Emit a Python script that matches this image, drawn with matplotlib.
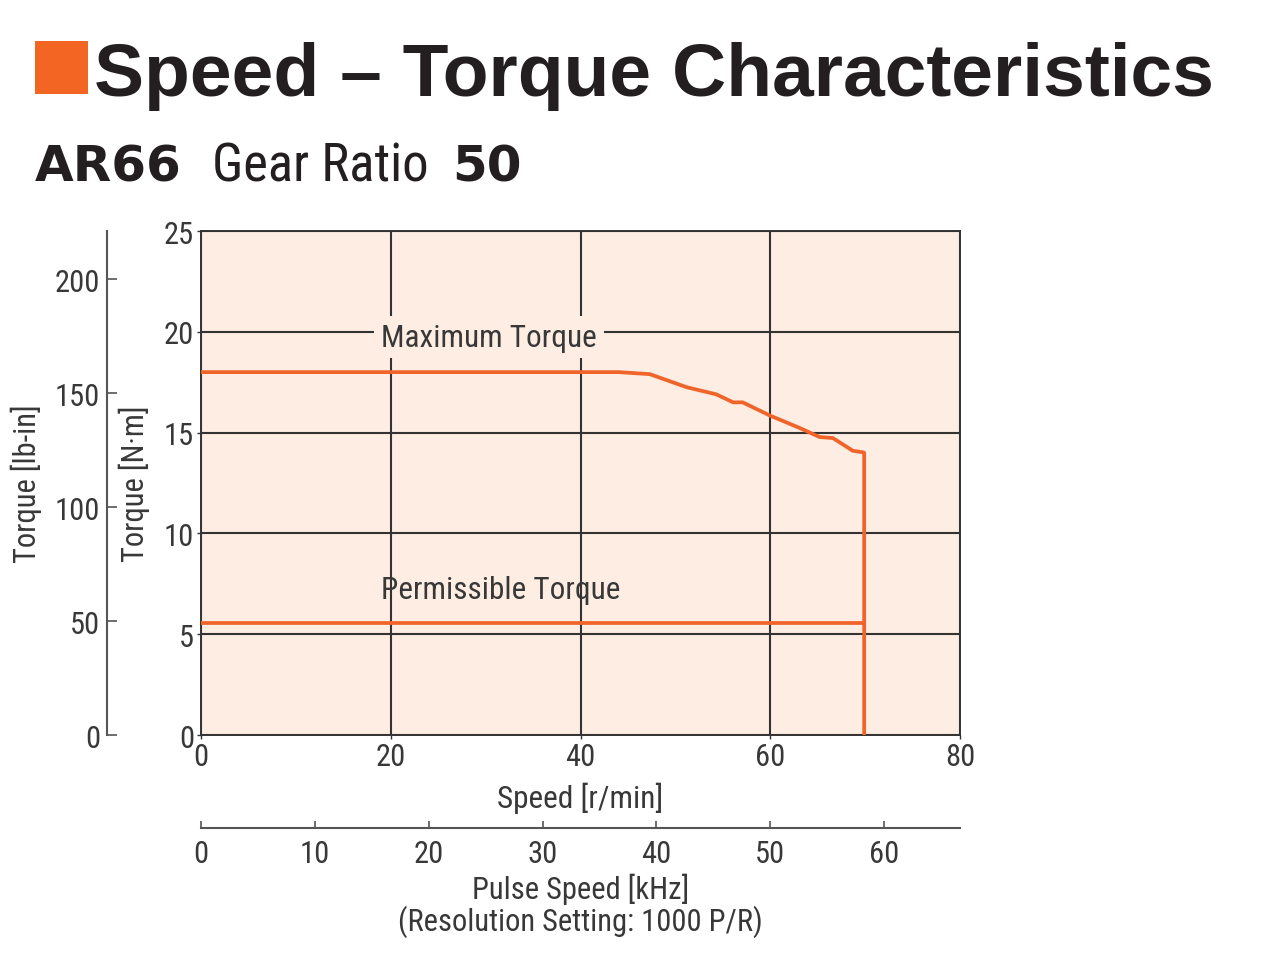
import matplotlib
matplotlib.use("Agg")
import matplotlib.pyplot as plt
from matplotlib import font_manager
from matplotlib.patches import Rectangle

# ---- data ----
speed_max = [0, 38, 44, 47.3, 51.2, 54.3, 56.1, 57.1, 60.0, 63.1, 65.2, 66.6, 68.7, 69.8, 69.9, 69.9]
torque_max = [18, 18, 18, 17.9, 17.25, 16.9, 16.5, 16.5, 15.84, 15.23, 14.78, 14.73, 14.1, 14.02, 14.0, 0]
speed_perm = [0, 69.9]
torque_perm = [5.55, 5.55]
speed_ticks = [0, 20, 40, 60, 80]
torque_ticks = [0, 5, 10, 15, 20, 25]
lbin_ticks = [0, 50, 100, 150, 200]
pulse_ticks = [0, 10, 20, 30, 40, 50, 60]
NM_TO_LBIN = 8.8507
GEAR_RATIO = 50
RESOLUTION = 1000

names = {f.name for f in font_manager.fontManager.ttflist}
NARROW = "Roboto Condensed" if "Roboto Condensed" in names else "DejaVu Sans"
BOLD = "Liberation Sans"
SUBBOLD = "DejaVu Sans"

W, H = 1280, 979
fig = plt.figure(figsize=(W / 100, H / 100), dpi=100)
fig.patch.set_facecolor("white")

def fx(x):
    return x / W

def fy(y):
    return 1 - y / H

ORANGE = "#f0642a"
BG = "#fdede2"
DARK = "#333333"
TXT = "#383838"
FS = 22

# main axes
ax = fig.add_axes([fx(201), fy(736), fx(960) - fx(201), fy(232) - fy(736)])
ax.set_facecolor(BG)
ax.set_xlim(0, 80)
ax.set_ylim(0, 25)
ax.set_xticks(speed_ticks)
ax.set_yticks(torque_ticks)
ax.grid(True, color=DARK, linewidth=1.5)
ax.set_axisbelow(True)
for s in ax.spines.values():
    s.set_color(DARK)
    s.set_linewidth(1.4)
ax.tick_params(axis="both", direction="out", length=3, width=1, color=DARK,
               labelsize=FS, labelcolor=TXT)
for lab in ax.get_xticklabels() + ax.get_yticklabels():
    lab.set_fontfamily(NARROW)
ax.tick_params(axis="y", pad=2)
ax.tick_params(axis="x", pad=2)

ax.plot(speed_max, torque_max, color=ORANGE, linewidth=2.7, solid_joinstyle="round", zorder=3)
ax.plot(speed_perm, torque_perm, color=ORANGE, linewidth=2.7, zorder=3)

ax.text(19.0, 19.74, "Maximum Torque", fontsize=FS + 0.5, family=NARROW, color=TXT,
        va="center", ha="left",
        bbox=dict(facecolor=BG, edgecolor="none", pad=5), zorder=2)
ax.text(19.0, 7.2, "Permissible Torque", fontsize=FS + 0.5, family=NARROW, color=TXT,
        va="center", ha="left", zorder=2)

ax.set_xlabel("Speed [r/min]", fontsize=FS + 0.5, family=NARROW, color=TXT, labelpad=8)
ax.set_ylabel("Torque [N·m]", fontsize=FS, family=NARROW, color=TXT, labelpad=10)

# lb-in secondary axis
sec = ax.secondary_yaxis((107 - 201) / (960 - 201),
                         functions=(lambda v: v * NM_TO_LBIN, lambda v: v / NM_TO_LBIN))
sec.set_alignment("left")
sec.set_yticks(lbin_ticks)
sec.spines["left"].set_color("#555555")
sec.spines["left"].set_linewidth(1.5)
sec.tick_params(axis="y", direction="in", length=7, width=1.2, color="#555555",
                labelsize=FS, labelcolor=TXT, pad=5)
for lab in sec.get_yticklabels():
    lab.set_fontfamily(NARROW)
sec.set_ylabel("Torque [lb-in]", fontsize=FS, family=NARROW, color=TXT, labelpad=9)

# pulse speed secondary axis
khz_per_rpm = GEAR_RATIO / 60 * RESOLUTION / 1000
secx = ax.secondary_xaxis((736 - 829) / (736 - 232),
                          functions=(lambda v: v * khz_per_rpm, lambda v: v / khz_per_rpm))
secx.set_xticks(pulse_ticks)
secx.spines["bottom"].set_color("#555555")
secx.spines["bottom"].set_linewidth(1.5)
secx.tick_params(axis="x", direction="in", length=5, width=1.2, color="#555555",
                 labelsize=FS, labelcolor=TXT, pad=8)
for lab in secx.get_xticklabels():
    lab.set_fontfamily(NARROW)
secx.set_xlabel("Pulse Speed [kHz]\n(Resolution Setting: 1000 P/R)", fontsize=FS,
                family=NARROW, color=TXT, labelpad=3, linespacing=1.05)

# header
fig.patches.append(Rectangle((fx(35), fy(95)), fx(88) - fx(35), fy(42) - fy(95),
                             transform=fig.transFigure, facecolor="#f26522", edgecolor="none"))
fig.text(fx(94), fy(96), "Speed – Torque Characteristics", fontsize=54, fontweight="bold",
         family=BOLD, color="#231f20", va="baseline", ha="left")
fig.text(fx(35), fy(182), "AR66", fontsize=36, fontweight="bold", family=SUBBOLD,
         color="#231f20", va="baseline", ha="left")
fig.text(fx(212), fy(182), "Gear Ratio", fontsize=38, family=NARROW,
         color="#231f20", va="baseline", ha="left")
fig.text(fx(452), fy(182), "50", fontsize=36, fontweight="bold", family=SUBBOLD,
         color="#231f20", va="baseline", ha="left")

fig.savefig("out.png", dpi=100)
